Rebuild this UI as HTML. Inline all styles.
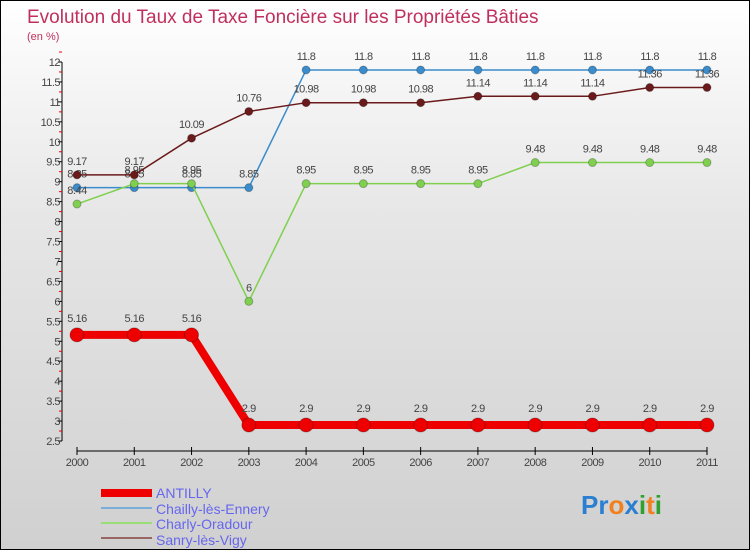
<!DOCTYPE html>
<html><head><meta charset="utf-8"><style>
body{margin:0}
#c{width:750px;height:550px;position:relative;box-sizing:border-box;border:1px solid #000;background:linear-gradient(#ffffff,#e6e6e6 40%,#d0d0d0);font-family:"Liberation Sans",sans-serif;overflow:hidden}
</style></head><body>
<div id="c">
<svg id="s" width="750" height="550" style="position:absolute;left:0;top:0" font-family="Liberation Sans, sans-serif">
<text x="26" y="22" font-size="19" fill="#c0305e">Evolution du Taux de Taxe Foncière sur les Propriétés Bâties</text>
<text x="26" y="39" font-size="11" fill="#c0305e">(en %)</text>
<g id="axes"></g><g id="series"></g>
<g>
<rect x="100" y="488" width="51" height="8" fill="#e00"/>
<text x="155" y="497" font-size="14" fill="#6666ee">ANTILLY</text>
<rect x="100" y="506" width="51" height="2" fill="#7aaed8"/>
<text x="155" y="513" font-size="14" fill="#6666ee">Chailly-lès-Ennery</text>
<rect x="100" y="521" width="51" height="2" fill="#99dd77"/>
<text x="155" y="528" font-size="14" fill="#6666ee">Charly-Oradour</text>
<rect x="100" y="536" width="51" height="2" fill="#996666"/>
<text x="155" y="544" font-size="14" fill="#6666ee">Sanry-lès-Vigy</text>
</g>
<text x="580" y="513" font-size="26" font-weight="bold"><tspan fill="#2a7fd0">Pr</tspan><tspan fill="#f08020">o</tspan><tspan fill="#2a7fd0">x</tspan><tspan fill="#30a030">i</tspan><tspan fill="#f08020">t</tspan><tspan fill="#30a030">i</tspan></text>
</svg></div>
<script>
const years=[2000,2001,2002,2003,2004,2005,2006,2007,2008,2009,2010,2011];
const antilly=[5.16,5.16,5.16,2.9,2.9,2.9,2.9,2.9,2.9,2.9,2.9,2.9];
const chailly=[8.85,8.85,8.85,8.85,11.8,11.8,11.8,11.8,11.8,11.8,11.8,11.8];
const charly=[8.44,8.95,8.95,6,8.95,8.95,8.95,8.95,9.48,9.48,9.48,9.48];
const sanry=[9.17,9.17,10.09,10.76,10.98,10.98,10.98,11.14,11.14,11.14,11.36,11.36];
const yTicks=[2.5,3,3.5,4,4.5,5,5.5,6,6.5,7,7.5,8,8.5,9,9.5,10,10.5,11,11.5,12];
const NS="http://www.w3.org/2000/svg";
const X=i=>76+i*(630/11);
const Y=v=>440-(v-2.5)*(379/9.5);
function mk(t,a,p){const e=document.createElementNS(NS,t);for(const k in a)e.setAttribute(k,a[k]);p.appendChild(e);return e;}
const ax=document.getElementById('axes');
const yl=mk('line',{x1:61,y1:Y(12),x2:61,y2:440,stroke:'#000'},ax);


yTicks.forEach(v=>{
 mk('line',{x1:57,x2:61,y1:Y(v),y2:Y(v),stroke:'#000'},ax);
 mk('line',{x1:58,x2:61,y1:Y(v+0.25),y2:Y(v+0.25),stroke:'#e00'},ax);
 const t=mk('text',{x:59,y:Y(v)+4,'font-size':11,'text-anchor':'end',fill:'#444','letter-spacing':'-0.5'},ax);
 t.textContent=v;
 
 
});
const xl=mk('line',{x1:X(0),x2:X(11),y1:450,y2:450,stroke:'#000'},ax);


years.forEach((yr,i)=>{
 mk('line',{x1:X(i),x2:X(i),y1:446,y2:454,stroke:'#000'},ax);
 const t=mk('text',{x:X(i),y:465,'font-size':11,'text-anchor':'middle',fill:'#444','letter-spacing':'-0.5'},ax);
 t.textContent=yr;
 
 
});
const sg=document.getElementById('series');
function series(data,color,w,r,name){
 const g=mk('g',{},sg);
 
 
 const pl=mk('polyline',{points:data.map((v,i)=>X(i)+','+Y(v)).join(' '),fill:'none',stroke:color,'stroke-width':w},g);
 
 
 data.forEach((v,i)=>{
  const c=mk('circle',{cx:X(i),cy:Y(v),r:r,fill:color,stroke:'rgba(0,0,0,0.25)'},g);
  
  
  const t=mk('text',{x:X(i),y:Y(v)-r-6,'font-size':11,'text-anchor':'middle',fill:'#444','letter-spacing':'-0.5'},g);
  t.textContent=v;
  
  
 });
}
series(chailly,'#3a8ccc',1.5,4,'chailly');
series(charly,'#80d050',1.5,4,'charly');
series(sanry,'#6a1a1a',1.5,4,'sanry');
series(antilly,'#ee0000',8,7,'antilly');
</script>
</body></html>
